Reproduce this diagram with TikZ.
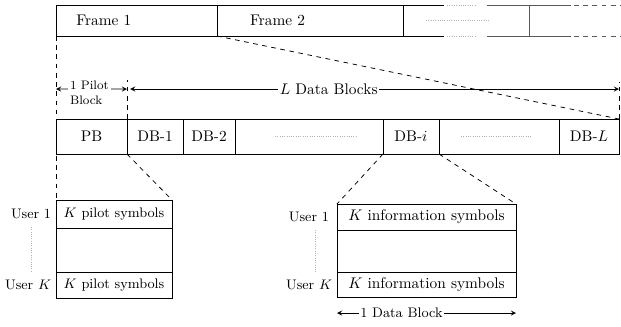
\documentclass[tikz,border=0pt]{standalone}
\usepackage{amsmath}
\usepackage{tikz}
\usetikzlibrary{arrows,positioning,calc}

\begin{document}
\begin{tikzpicture}[
        x=0.65pt, y=-0.65pt,
        node distance=0pt,
        framebox/.style={rectangle, draw=black, line width=0.6pt, minimum height=20.15pt, inner sep=0pt, outer sep=0pt},
        block/.style={rectangle, draw=black, line width=0.6pt, minimum height=22.75pt, inner sep=0pt, outer sep=0pt},
        slot/.style={rectangle, draw=black, line width=0.6pt, inner sep=0pt, outer sep=0pt},
        user/.style={font=\small, inner sep=2pt},
        zoomline/.style={dashed, line width=0.5pt},
        dots/.style={densely dotted, gray!60, line width=0.5pt},
        fadeline/.style={black!65, line width=0.6pt},
        arrow/.style={<->, >=stealth, line width=0.5pt},
    ]
    \useasboundingbox (0,0) rectangle (621,326);

    % Frames
    \node[framebox, minimum width=104.65pt, anchor=west] (frame1) at (56,20.5) {};
    \node[framebox, minimum width=120.9pt, right=of frame1] (frame2) {};
    \node[anchor=west] (frame1txt) at ([xshift=9.7pt]frame1.west) {Frame 1};
    \node[anchor=west] (frame2txt) at ([xshift=18pt]frame2.west) {Frame 2};

    % open end of the frame row
    \draw[line width=0.6pt] (frame2.north east) -- ++(41,0);
    \draw[line width=0.6pt] (frame2.south east) -- ++(41,0);
    \draw[dots] ($(frame2.north east)+(44,0)$) -- ++(28,0);
    \draw[dots] ($(frame2.south east)+(44,0)$) -- ++(28,0);
    \draw[dots] ($(frame2.east)+(23,0)$) -- ++(63,0);
    \draw[fadeline] ($(frame2.north east)+(84,0)$) -- ++(84,0);
    \draw[fadeline] ($(frame2.south east)+(84,0)$) -- ++(84,0);
    \draw[fadeline] ($(frame2.north east)+(126,0)$) -- ($(frame2.south east)+(126,0)$);
    \draw[fadeline, dashed] ($(frame2.north east)+(171,0)$) -- ++(50,0);
    \draw[fadeline, dashed] ($(frame2.south east)+(171,0)$) -- ++(50,0);

    % Blocks of one frame
    \node[block, minimum width=46.15pt, anchor=west] (pb) at (56,136.5) {PB};
    \node[block, minimum width=36.4pt, right=of pb] (db1) {DB-1};
    \node[block, minimum width=33.8pt, right=of db1] (db2) {DB-2};
    \node[block, minimum width=96.2pt, right=of db2] (gap1) {};
    \node[block, minimum width=36.4pt, right=of gap1] (dbi) {DB-$i$};
    \node[block, minimum width=78pt, right=of dbi] (gap2) {};
    \node[block, minimum width=39pt, right=of gap2] (dbL) {DB-$L$};
    \draw[dots] ($(gap1.center)+(-34,0)$) -- ($(gap1.center)+(49,0)$);
    \draw[dots] ($(gap2.center)+(-38,0)$) -- ($(gap2.center)+(32,0)$);

    % Block lengths
    \coordinate (pilotL) at ($(frame1.south west)+(0,53)$);
    \coordinate (pilotR) at ($(pb.north east)+(0,-30)$);
    \coordinate (dataR) at ($(dbL.north east)+(0,-30)$);
    \draw[zoomline] (pb.north east) -- ++(0,-39);
    \draw[zoomline] (dbL.north east) -- ++(0,-37);
    \draw[arrow] (pilotL) -- node[pos=0.47, fill=white, font=\footnotesize, align=left, inner sep=1.5pt, yshift=-2.3pt] (pilotlbl) {1 Pilot\\Block} (pilotR);
    \draw[arrow, shorten <=2pt] (pilotR) -- node[pos=0.41, fill=white, inner sep=1pt] (datalbl) {$L$ Data Blocks} (dataR);

    % Pilot block
    \node[slot, font=\small, minimum width=75.4pt, minimum height=18.2pt, anchor=north west] (pilot1) at ($(pb.south west)+(0,46)$) {$K$ pilot symbols};
    \node[slot, minimum width=75.4pt, minimum height=28.6pt, below=of pilot1] (pilotmid) {};
    \node[slot, font=\small, minimum width=75.4pt, minimum height=16.9pt, below=of pilotmid] (pilotK) {$K$ pilot symbols};
    \node[user, left=1pt of pilot1] (pu1) {User 1};
    \node[user, left=1pt of pilotK] (puK) {User $K$};
    \draw[dots, shorten <=3pt, shorten >=3pt] (pu1.south) -- (pu1.south |- puK.north);

    % Data block
    \node[slot, minimum width=116.35pt, minimum height=16.9pt, anchor=north west] (info1) at ($(dbi.south west)+(-46,50)$) {$K$ information symbols};
    \node[slot, minimum width=116.35pt, minimum height=27.3pt, below=of info1] (infomid) {};
    \node[slot, minimum width=116.35pt, minimum height=16.25pt, below=of infomid] (infoK) {$K$ information symbols};
    \node[user, left=3pt of info1] (iu1) {User 1};
    \node[user, left=1pt of infoK] (iuK) {User $K$};
    \draw[dots, shorten <=3pt, shorten >=3pt] ([xshift=4pt]iu1.south) -- ([xshift=4pt]iu1.south |- iuK.north);

    \coordinate (blkL) at ($(infoK.south west)+(0,16)$);
    \coordinate (blkR) at ($(infoK.south east)+(0,16)$);
    \draw[arrow] (blkL) -- node[pos=0.36, fill=white, font=\small, inner sep=1pt] (blklbl) {1 Data Block} (blkR);

    % Zoom lines
    \draw[zoomline] (frame1.south west) -- (pilot1.north west);
    \draw[zoomline] (frame1.south east) -- (dbL.north east);
    \draw[zoomline] (db1.south west) -- (pilot1.north east);
    \draw[zoomline] (dbi.south west) -- (info1.north west);
    \draw[zoomline] (dbi.south east) -- (info1.north east);

\end{tikzpicture}
\end{document}
